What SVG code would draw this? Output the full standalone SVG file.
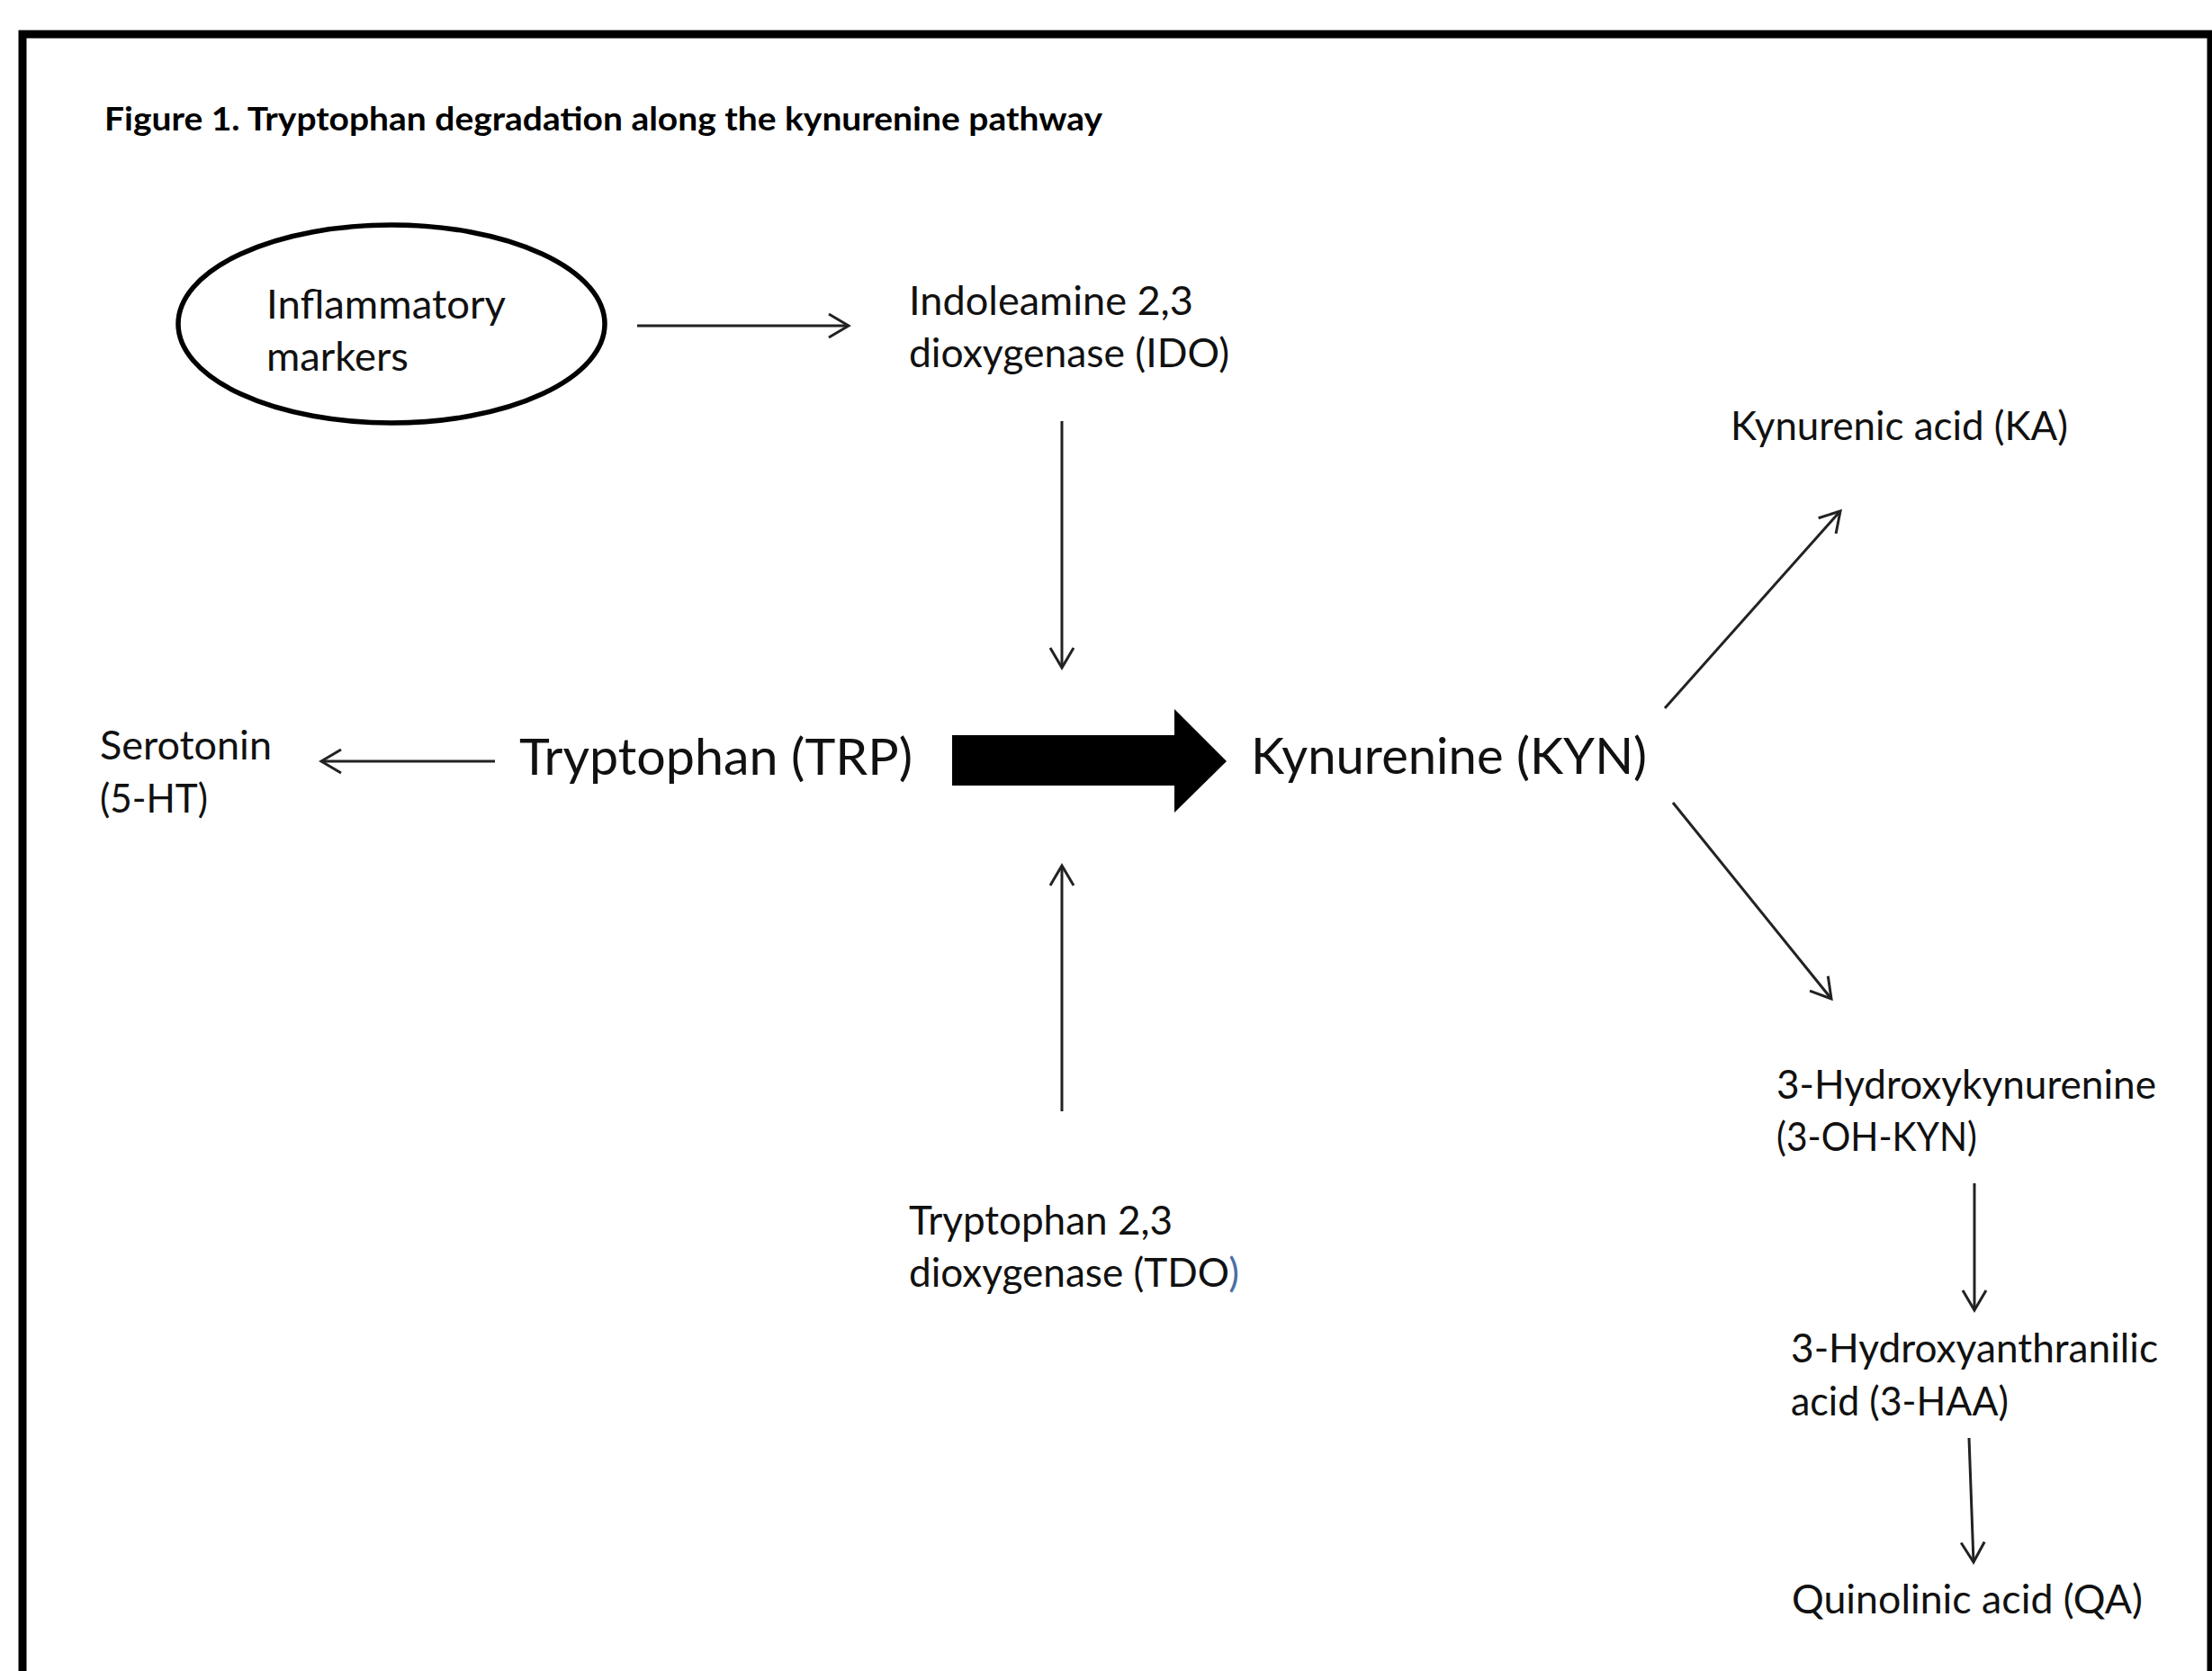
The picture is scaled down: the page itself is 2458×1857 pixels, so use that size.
<svg xmlns="http://www.w3.org/2000/svg" width="2458" height="1857" viewBox="0 0 2458 1857">
<defs>
<style>
.lbl{font-family:Lato,"Liberation Sans",sans-serif;font-size:45px;fill:#111}
.big{font-family:Lato,"Liberation Sans",sans-serif;font-size:57px;fill:#111}
.ttl{font-family:Lato,"Liberation Sans",sans-serif;font-size:36px;font-weight:bold;fill:#000}
.con{stroke:#222;stroke-width:3;fill:none;marker-end:url(#open)}
</style>
<marker id="open" markerUnits="userSpaceOnUse" markerWidth="40" markerHeight="40" viewBox="-30 -20 40 40" refX="0" refY="0" orient="auto" overflow="visible">
<path d="M -22 -13 L 0 0 L -22 13" fill="none" stroke="#222" stroke-width="3"/>
</marker>
</defs>
<rect width="2458" height="1857" fill="#fff"/>
<rect id="frame" x="25" y="38" width="2432" height="1860" fill="none" stroke="#000" stroke-width="9"/>
<text id="title" class="ttl" x="116" y="145" textLength="1109" lengthAdjust="spacingAndGlyphs">Figure 1. Tryptophan degradation along the kynurenine pathway</text>

<g id="connectors">
<line class="con" x1="708" y1="362" x2="943" y2="362"/>
<line class="con" x1="1180" y1="468" x2="1180" y2="742"/>
<line class="con" x1="1180" y1="1235" x2="1180" y2="962"/>
<line class="con" x1="550" y1="846" x2="357" y2="846"/>
<line class="con" x1="1850" y1="787" x2="2045" y2="568"/>
<line class="con" x1="1859" y1="892" x2="2035" y2="1110"/>
<line class="con" x1="2194" y1="1315" x2="2194" y2="1456"/>
<line class="con" x1="2188" y1="1598" x2="2193" y2="1736"/>
<polygon id="main-arrow" points="1058,817 1305,817 1305,788 1363,846 1305,903 1305,873 1058,873" fill="#000"/>
</g>

<g id="inflammatory">
<ellipse cx="435" cy="360" rx="237" ry="110" fill="none" stroke="#000" stroke-width="5.5"/>
<text class="lbl" x="296" y="354" textLength="266" lengthAdjust="spacingAndGlyphs">Inflammatory</text>
<text class="lbl" x="296" y="412" textLength="158" lengthAdjust="spacingAndGlyphs">markers</text>
</g>
<g id="ido">
<text class="lbl" x="1010" y="350" textLength="316" lengthAdjust="spacingAndGlyphs">Indoleamine 2,3</text>
<text class="lbl" x="1010" y="408" textLength="356" lengthAdjust="spacingAndGlyphs">dioxygenase (IDO)</text>
</g>
<g id="serotonin">
<text class="lbl" x="111" y="844" textLength="191" lengthAdjust="spacingAndGlyphs">Serotonin</text>
<text class="lbl" x="111" y="903" textLength="120" lengthAdjust="spacingAndGlyphs">(5-HT)</text>
</g>
<g id="trp">
<text class="big" x="577" y="861" textLength="437" lengthAdjust="spacingAndGlyphs">Tryptophan (TRP)</text>
</g>
<g id="kyn">
<text class="big" x="1390" y="860" textLength="440" lengthAdjust="spacingAndGlyphs">Kynurenine (KYN)</text>
</g>
<g id="tdo">
<text class="lbl" x="1010" y="1372" textLength="293" lengthAdjust="spacingAndGlyphs">Tryptophan 2,3</text>
<text class="lbl" x="1010" y="1430" textLength="367" lengthAdjust="spacingAndGlyphs">dioxygenase (TDO<tspan fill="#4a6fa5">)</tspan></text>
</g>
<g id="ka">
<text class="lbl" x="1923" y="489" textLength="375" lengthAdjust="spacingAndGlyphs">Kynurenic acid (KA)</text>
</g>
<g id="ohkyn">
<text class="lbl" x="1974" y="1221" textLength="422" lengthAdjust="spacingAndGlyphs">3-Hydroxykynurenine</text>
<text class="lbl" x="1974" y="1279" textLength="223" lengthAdjust="spacingAndGlyphs">(3-OH-KYN)</text>
</g>
<g id="haa">
<text class="lbl" x="1990" y="1514" textLength="408" lengthAdjust="spacingAndGlyphs">3-Hydroxyanthranilic</text>
<text class="lbl" x="1990" y="1573" textLength="242" lengthAdjust="spacingAndGlyphs">acid (3-HAA)</text>
</g>
<g id="qa">
<text class="lbl" x="1991" y="1793" textLength="390" lengthAdjust="spacingAndGlyphs">Quinolinic acid (QA)</text>
</g>
</svg>
